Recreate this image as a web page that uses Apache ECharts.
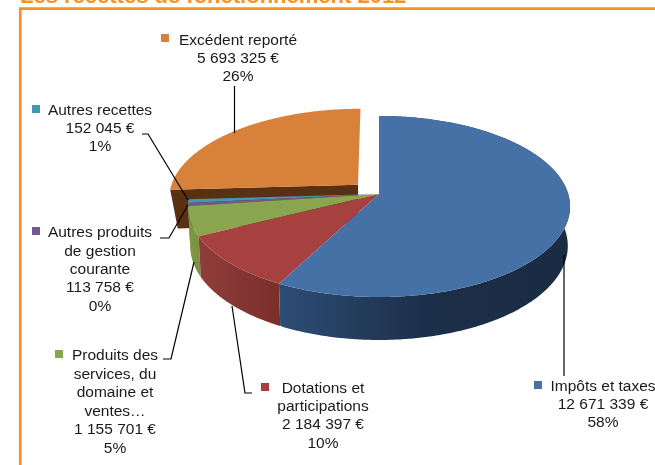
<!DOCTYPE html>
<html><head><meta charset="utf-8">
<style>html,body{margin:0;padding:0;background:#fff}#c{width:655px;height:465px}</style>
<script src="https://cdn.jsdelivr.net/npm/echarts@6/dist/echarts.min.js"></script>
</head><body><div id="c"></div>
<script>
const categories = ['Impôts et taxes','Dotations et participations','Produits des services, du domaine et ventes…','Autres produits de gestion courante','Autres recettes','Excédent reporté'];
const values = [12671339,2184397,1155701,113758,152045,5693325];
const percents = ['58%','10%','5%','0%','1%','26%'];
const valueLabels = ['12 671 339 €','2 184 397 €','1 155 701 €','113 758 €','152 045 €','5 693 325 €'];
const labelLines = [['Impôts et taxes'],['Dotations et','participations'],['Produits des','services, du','domaine et','ventes…'],['Autres produits','de gestion','courante'],['Autres recettes'],['Excédent reporté']];
const titleText = 'Les recettes de fonctionnement 2012';

const topColors = ['#4571a6','#a74140','#89a54e','#71588f','#4198af','#d8813a'];
const sideStops = [['#2d4d75','#1c2f49','#1a2c42'],['#8f3d3a','#853634','#7a2f2d'],['#7c9646','#7c9646','#77903f'],['#5a4672','#5a4672','#5a4672'],['#34798c','#34798c','#34798c'],['#5a3013','#5a3013','#5a3013']];
const explode = [0,0,0,0,0,0.155];
const bottomScale = [1,1,1,1,1,0.975];
const PROJ = {cx:379, topY:194, R:189.2, S:88.8, k:0.138, botY:233, R2:187, S2:92.2};
const layout = [
 {cx:603, ys:[387,405,423], mx:534, my:381, line:[[564,255],[564,376]]},
 {cx:323, ys:[389,407,425,444], mx:261, my:383, line:[[252,393],[245,393],[232,306]]},
 {cx:115, ys:[356,375,393,412,430,449], mx:55, my:350, line:[[163,359],[171,359],[194,262]]},
 {cx:100, ys:[233,252,270,288,307], mx:32, my:227, line:[[160,238],[169,238],[188,205]]},
 {cx:100, ys:[111,129,147], mx:32, my:105, line:[[142,134],[148,134],[188,200]]},
 {cx:238, ys:[41,59,77], mx:161, my:34, line:[[234.5,86],[234.5,133]]}
];
const total = values.reduce((a,b)=>a+b,0);
function project(u,v,bottom,scale){
  const d = 1+PROJ.k*v;
  return bottom ? [PROJ.cx+PROJ.R2*scale*u/d, PROJ.botY-PROJ.S2*v/d]
                : [PROJ.cx+PROJ.R*u/d, PROJ.topY-PROJ.S*v/d];
}
function renderSlice(params, api){
  const i = api.value(0);
  let start = 0;
  for(let j=0;j<i;j++) start += values[j]/total*2*Math.PI;
  const end = start + values[i]/total*2*Math.PI;
  const mid = (start+end)/2;
  const ex = explode[i]*Math.sin(mid), ey = explode[i]*Math.cos(mid);
  const pt = (a,r,b)=>project(ex+r*Math.sin(a), ey+r*Math.cos(a), b, bottomScale[i]);
  const n = Math.max(2,Math.ceil((end-start)/0.01));
  const topArc=[], botArc=[];
  for(let s=0;s<=n;s++){const a=start+(end-start)*s/n; topArc.push(pt(a,1,false)); botArc.push(pt(a,1,true));}
  const children=[];
  const xs = botArc.concat(topArc).map(p=>p[0]);
  const grad = {type:'linear',x:Math.min(...xs),y:0,x2:Math.max(...xs),y2:0,global:true,
    colorStops:[{offset:0,color:sideStops[i][0]},{offset:0.5,color:sideStops[i][1]},{offset:1,color:sideStops[i][2]}]};
  if(i===categories.length-1){
    children.push({type:'polygon',shape:{points:[pt(start,0,false),topArc[0],botArc[0],pt(start,0,true)]},
      style:{fill:sideStops[i][0]}});
  } else {
    children.push({type:'polygon',shape:{points:topArc.concat(botArc.slice().reverse())},style:{fill:grad}});
  }
  children.push({type:'polygon',shape:{points:[pt(start,0,false)].concat(topArc)},style:{fill:topColors[i]}});
  const L = layout[i];
  children.push({type:'polyline',z2:100,shape:{points:L.line},style:{stroke:'#000',lineWidth:1.2,fill:null}});
  children.push({type:'rect',z2:100,shape:{x:L.mx,y:L.my,width:8,height:8},style:{fill:topColors[i]}});
  const lines = labelLines[i].concat([valueLabels[i],percents[i]]);
  lines.forEach((t,k)=>{
    children.push({type:'text',z2:100,style:{text:t,x:L.cx,y:L.ys[k],align:'center',verticalAlign:'middle',
      font:'15.5px "Liberation Sans"',fill:'#1a1a1a'}});
  });
  return {type:'group',children};
}
const chart = echarts.init(document.getElementById('c'),null,{renderer:'canvas'});
const order = categories.map((_,i)=>i).reverse();
chart.setOption({
  animation:false,
  backgroundColor:'#fff',
  graphic:[
    {type:'text',style:{text:titleText,x:20,y:-14,fill:'#f7931e',font:'bold 22px "Liberation Sans"'}},
    {type:'rect',shape:{x:20.3,y:8.7,width:700,height:500},style:{fill:null,stroke:'#f7931e',lineWidth:2.7}}
  ],
  series:[{type:'custom',coordinateSystem:'none',renderItem:renderSlice,
    data:order.map(i=>({name:categories[i],value:[i,values[i]]}))}]
});
</script></body></html>
